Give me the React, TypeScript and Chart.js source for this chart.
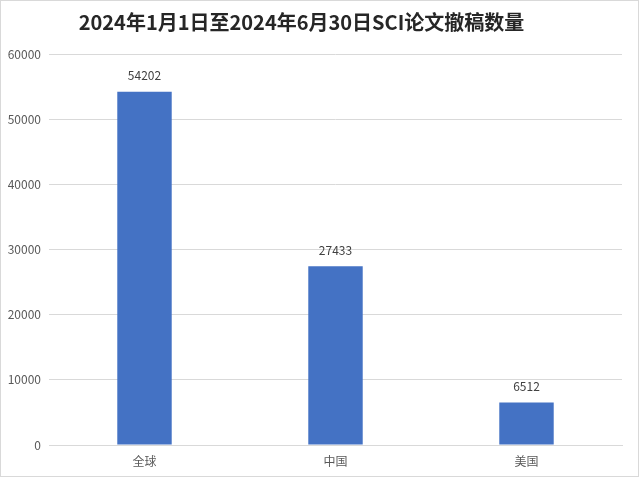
import { useEffect, useRef } from "react";
import { Chart, registerables } from "chart.js";

Chart.register(...registerables);

const titleText = "2024年1月1日至2024年6月30日SCI论文撤稿数量";
const regions = ["全球", "中国", "美国"];
const retractions = [54202, 27433, 6512];
const yTicks = [0, 10000, 20000, 30000, 40000, 50000, 60000];

const fontFamily = '"Noto Sans CJK SC", "Noto Sans", sans-serif';

// title drawn by hand so it can sit a little left of centre like the original
const titlePlugin = {
  id: "sketchTitle",
  afterDraw(chart: Chart) {
    const ctx = chart.ctx;
    ctx.save();
    ctx.font = `bold 20px ${fontFamily}`;
    ctx.fillStyle = "#262626";
    ctx.textAlign = "center";
    ctx.textBaseline = "middle";
    ctx.fillText(titleText, chart.width / 2 - 18, 21);
    ctx.restore();
  },
};

// value labels above each bar
const valueLabels = {
  id: "valueLabels",
  afterDatasetsDraw(chart: Chart) {
    const ctx = chart.ctx;
    const meta = chart.getDatasetMeta(0);
    ctx.save();
    ctx.font = `12px ${fontFamily}`;
    ctx.fillStyle = "#404040";
    ctx.textAlign = "center";
    ctx.textBaseline = "middle";
    meta.data.forEach((bar: any, i: number) => {
      ctx.fillText(String(retractions[i]), bar.x, bar.y - 16);
    });
    ctx.restore();
  },
};

export default function App() {
  const chartRef = useRef<HTMLCanvasElement>(null);
  const chartInstance = useRef<Chart | null>(null);

  useEffect(() => {
    if (!chartRef.current) return;
    if (chartInstance.current) {
      chartInstance.current.destroy();
    }
    const ctx = chartRef.current.getContext("2d");
    if (!ctx) return;

    chartInstance.current = new Chart(ctx, {
      type: "bar",
      data: {
        labels: regions,
        datasets: [
          {
            label: "撤稿数量",
            data: retractions,
            backgroundColor: "#4472C4",
            categoryPercentage: 1,
            barPercentage: 0.285,
          },
        ],
      },
      options: {
        responsive: true,
        maintainAspectRatio: false,
        animation: false,
        layout: {
          padding: { top: 53, right: 16, bottom: 0, left: 0 },
        },
        scales: {
          x: {
            afterFit: (scale: any) => {
              scale.height = 31;
            },
            grid: { display: false },
            border: { color: "#d9d9d9" },
            ticks: {
              color: "#595959",
              padding: 1,
              font: { family: fontFamily, size: 12 },
            },
          },
          y: {
            min: 0,
            max: 60000,
            afterBuildTicks: (scale: any) => {
              scale.ticks = yTicks.map((v) => ({ value: v }));
            },
            afterFit: (scale: any) => {
              scale.width = 48;
            },
            grid: { color: "#d9d9d9", drawTicks: false },
            border: { display: false },
            ticks: {
              color: "#595959",
              padding: 8,
              font: { family: fontFamily, size: 12 },
              callback: (value: any) => String(value),
            },
          },
        },
        plugins: {
          legend: { display: false },
          title: { display: false },
          tooltip: { enabled: false },
        },
      },
      plugins: [titlePlugin, valueLabels],
    });

    return () => {
      if (chartInstance.current) {
        chartInstance.current.destroy();
        chartInstance.current = null;
      }
    };
  }, []);

  return (
    <div
      style={{
        position: "fixed",
        left: 0,
        top: 0,
        width: 639,
        height: 477,
        boxSizing: "border-box",
        border: "1px solid #d9d9d9",
        background: "#fff",
      }}
    >
      <canvas ref={chartRef} />
    </div>
  );
}
